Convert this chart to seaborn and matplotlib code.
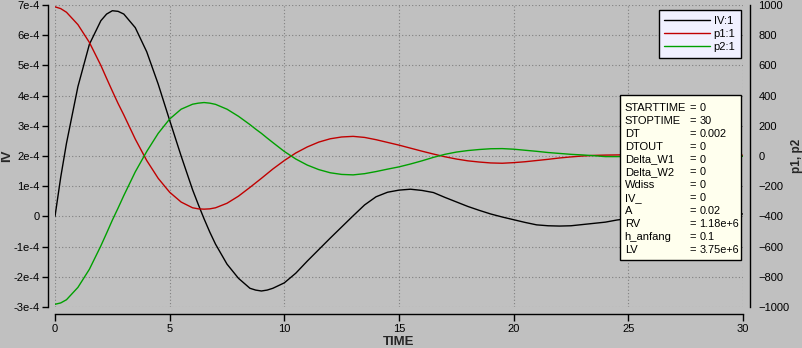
import numpy as np
import pandas as pd
import matplotlib
matplotlib.use("Agg")
import matplotlib.pyplot as plt
from matplotlib.lines import Line2D
from matplotlib.patches import Rectangle
from matplotlib.ticker import FuncFormatter, MultipleLocator
import seaborn as sns

# simulation output
time = [0, 0.25, 0.5, 1, 1.5, 2, 2.25, 2.5, 2.75, 3, 3.5, 4, 4.5, 5, 5.5, 6, 6.25, 6.5,
        6.75, 7, 7.5, 8, 8.5, 8.75, 9, 9.25, 9.5, 10, 10.5, 11, 11.5, 12, 12.5, 13, 13.5,
        14, 14.5, 15, 15.5, 16, 16.5, 17, 17.5, 18, 18.5, 19, 19.5, 20, 20.5, 21, 21.5,
        22, 22.5, 23, 23.5, 24, 24.5, 25, 26, 27, 28, 29, 30]
# IV in units of 1e-4
iv_e4 = [0, 1.3, 2.42, 4.3, 5.7, 6.48, 6.7, 6.81, 6.79, 6.7, 6.25, 5.45, 4.38, 3.18, 2.0,
         0.88, 0.39, -0.08, -0.52, -0.92, -1.58, -2.05, -2.38, -2.44, -2.47, -2.44, -2.38,
         -2.2, -1.88, -1.48, -1.1, -0.72, -0.35, 0.02, 0.38, 0.65, 0.8, 0.87, 0.9, 0.86,
         0.79, 0.63, 0.48, 0.33, 0.2, 0.08, -0.02, -0.11, -0.2, -0.28, -0.31, -0.32, -0.31,
         -0.27, -0.23, -0.19, -0.12, -0.07, 0.02, 0.08, 0.1, 0.1, 0.08]
p1 = [988, 976, 952, 870, 752, 600, 514, 430, 348, 272, 112, -30, -148, -240, -305, -343,
      -350, -352, -350, -343, -313, -266, -208, -178, -148, -117, -86, -30, 20, 60, 92,
      114, 126, 130, 123, 108, 90, 72, 52, 32, 13, -5, -20, -32, -40, -46, -48, -44, -38,
      -30, -22, -13, -6, 0, 4, 6, 7, 8, 8, 7, 6, 5, 5]
p2 = [-982, -973, -952, -870, -750, -595, -511, -425, -345, -262, -105, 30, 150, 245,
      310, 343, 350, 354, 350, 342, 310, 263, 208, 178, 150, 119, 89, 30, -20, -60, -90,
      -111, -122, -125, -117, -103, -87, -72, -53, -32, -9, 11, 26, 36, 43, 48, 49, 45,
      38, 31, 23, 17, 11, 7, 2, -4, -4, -3, -3, -3, -3, -2, -2]

param_names = ["STARTTIME", "STOPTIME", "DT", "DTOUT", "Delta_W1", "Delta_W2", "Wdiss",
               "IV_", "A", "RV", "h_anfang", "LV"]
param_values = ["0", "30", "0.002", "0", "0", "0", "0", "0", "0.02", "1.18e+6", "0.1",
                "3.75e+6"]

df = pd.DataFrame({"TIME": time, "IV": np.array(iv_e4) * 1e-4, "p1": p1, "p2": p2})

grey = "#c0c0c0"
sns.set_style("ticks", {"axes.facecolor": grey, "figure.facecolor": grey,
                        "axes.edgecolor": "black", "xtick.color": "black",
                        "ytick.color": "black", "text.color": "black"})
plt.rcParams['font.family'] = ['Liberation Sans', 'DejaVu Sans']
plt.rcParams['font.size'] = 8

fig = plt.figure(figsize=(8.02, 3.48), dpi=100)
ax = fig.add_axes([55 / 802, 41 / 348, 688 / 802, 302 / 348])
ax2 = ax.twinx()

sns.lineplot(data=df, x="TIME", y="IV", ax=ax, color="black", lw=1.0, estimator=None)
sns.lineplot(data=df, x="TIME", y="p1", ax=ax2, color="#c00000", lw=1.0, estimator=None)
sns.lineplot(data=df, x="TIME", y="p2", ax=ax2, color="#00a000", lw=1.0, estimator=None)

ax.set_xlim(0, 30)
ax.set_ylim(-3e-4, 7e-4)
ax2.set_ylim(-1000, 1000)
ax.xaxis.set_major_locator(MultipleLocator(5))
ax.yaxis.set_major_locator(MultipleLocator(1e-4))
ax2.yaxis.set_major_locator(MultipleLocator(200))
ax.yaxis.set_major_formatter(FuncFormatter(
    lambda v, p: "0" if abs(v) < 1e-9 else f"{round(v * 1e4)}e-4"))

ax.grid(True, color="#808080", linestyle=(0, (1, 2)), linewidth=0.8)

sns.despine(ax=ax, top=True, right=True, offset=5)
sns.despine(ax=ax2, top=True, bottom=True, left=True, right=False, offset=5)
for a in (ax, ax2):
    for s in a.spines.values():
        s.set_linewidth(1.0)
ax.tick_params(axis="y", length=4, width=1, pad=2, labelsize=8)
ax.tick_params(axis="x", length=5, width=1, pad=2, labelsize=8)
ax2.tick_params(axis="y", length=4, width=1, pad=2, labelsize=8)

ax.set_xlabel("TIME", fontweight="bold", fontsize=9.5, labelpad=2)
ax.set_ylabel("IV", fontweight="bold", fontsize=9.5)
ax2.set_ylabel("p1, p2", fontweight="bold", fontsize=8.5)
ax.yaxis.set_label_coords(-0.069, 0.5)
ax2.yaxis.set_label_coords(1.078, 0.5)
ax.yaxis.label.set_va("center")
ax2.yaxis.label.set_va("center")

handles = [Line2D([], [], color="black", lw=1.0),
           Line2D([], [], color="#c00000", lw=1.0),
           Line2D([], [], color="#00a000", lw=1.0)]
leg = ax2.legend(handles, ["IV:1", "p1:1", "p2:1"], loc="upper right",
                 bbox_to_anchor=(0.997, 0.983), borderaxespad=0, fancybox=False,
                 framealpha=1, facecolor="#f0f0ff", edgecolor="black", fontsize=8,
                 handlelength=4.1, handletextpad=0.35, labelspacing=0.3, borderpad=0.5)
leg.get_frame().set_linewidth(1.0)
leg.set_zorder(20)

# parameter box
box_x0, box_y0, box_w, box_h = 0.821, 0.156, 0.176, 0.546
ax2.add_patch(Rectangle((box_x0, box_y0), box_w, box_h, transform=ax2.transAxes,
                        facecolor="#ffffee", edgecolor="black", lw=1.0, zorder=15,
                        clip_on=False))
y0 = 0.659
dy = 0.0427
for i, (name, val) in enumerate(zip(param_names, param_values)):
    yy = y0 - i * dy
    ax2.text(0.828, yy, name, transform=ax2.transAxes, fontsize=8,
             va="center", ha="left", zorder=16)
    ax2.text(0.922, yy, "=", transform=ax2.transAxes, fontsize=8,
             va="center", ha="left", zorder=16)
    ax2.text(0.937, yy, val, transform=ax2.transAxes, fontsize=7.8,
             va="center", ha="left", zorder=16)

fig.savefig("out.png", dpi=100, facecolor=grey)
